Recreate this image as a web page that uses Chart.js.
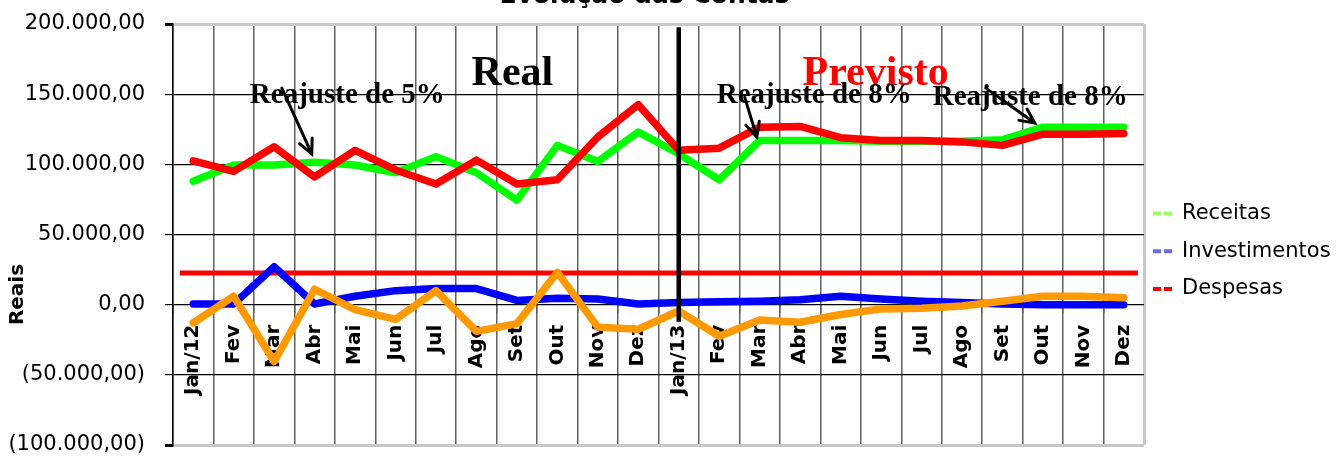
<!DOCTYPE html>
<html lang="pt-BR">
<head>
<meta charset="utf-8">
<title>Evolução das Contas</title>
<script src="https://cdn.jsdelivr.net/npm/chart.js@4.4.1/dist/chart.umd.min.js"></script>
<style>
  html, body { margin: 0; padding: 0; background: #fff; }
  #box { width: 1344px; height: 457px; position: relative; }
</style>
</head>
<body>
<div id="box"><canvas id="grafico"></canvas></div>
<script>
const meses = ['Jan/12', 'Fev', 'Mar', 'Abr', 'Mai', 'Jun', 'Jul', 'Ago', 'Set', 'Out', 'Nov', 'Dez',
               'Jan/13', 'Fev', 'Mar', 'Abr', 'Mai', 'Jun', 'Jul', 'Ago', 'Set', 'Out', 'Nov', 'Dez'];
const receitas = [88000, 99500, 99500, 101500, 99500, 94000, 105500, 94000, 74500, 113500, 102000, 123000,
                  107500, 89000, 117000, 117000, 117000, 116500, 116500, 116500, 117500, 126500, 126500, 126500];
const investimentos = [500, 500, 27000, 500, 6000, 10000, 11500, 11500, 3000, 4500, 4000, 500,
                       1500, 2000, 2500, 3500, 6000, 4000, 2500, 1500, 500, 0, 0, 0];
const despesas = [102500, 95000, 112500, 91000, 110000, 96000, 86000, 103000, 86000, 89000, 119500, 142500,
                  110000, 111500, 126500, 127000, 119000, 117000, 117000, 116000, 113500, 121500, 121500, 122000];
const saldo = [-13000, 6000, -40500, 11000, -3500, -10500, 10000, -19000, -13500, 23000, -16000, -17500,
               -4500, -22500, -11000, -12500, -7000, -3000, -2500, -1000, 2500, 6000, 6000, 5000];
const ticksY = [-100000, -50000, 0, 50000, 100000, 150000, 200000];
const linhaDespesas = 22500;   // linha vermelha horizontal
const mesDivisor = 12;         // Jan/13, onde começa o previsto

// formato brasileiro, negativos entre parênteses
function formata(v) {
  const inteiro = Math.round(Math.abs(v)).toString().replace(/\B(?=(\d{3})+(?!\d))/g, '.');
  const txt = inteiro + ',00';
  return v < 0 ? '(' + txt + ')' : txt;
}

// notas por cima do gráfico (x = índice do mês, y = valor em reais)
const notas = [
  { texto: 'Real', x: 6.88, y: 156500, cor: '#000', tam: 42 },
  { texto: 'Previsto', x: 15.06, y: 156500, cor: '#ff0000', tam: 42 },
  { texto: 'Reajuste de 5%', x: 1.40, y: 143700, cor: '#000', tam: 29 },
  { texto: 'Reajuste de 8%', x: 12.94, y: 143700, cor: '#000', tam: 29 },
  { texto: 'Reajuste de 8%', x: 18.28, y: 142200, cor: '#000', tam: 29 }
];
const setas = [
  { de: [2.19, 154300], ate: [2.93, 107400] },
  { de: [13.63, 147900], ate: [13.93, 119500] },
  { de: [19.59, 154300], ate: [20.80, 129400] }
];

const fundoPlugin = {
  id: 'fundo',
  beforeDatasetsDraw(chart) {
    const { ctx, scales } = chart;
    const y = scales.y.getPixelForValue(linhaDespesas);
    ctx.save();
    ctx.strokeStyle = '#ff0000';
    ctx.lineWidth = 5;
    ctx.beginPath();
    ctx.moveTo(scales.x.getPixelForValue(-0.33), y);
    ctx.lineTo(scales.x.getPixelForValue(23.35), y);
    ctx.stroke();
    ctx.restore();
  }
};

const notasPlugin = {
  id: 'notas',
  afterDatasetsDraw(chart) {
    const { ctx, scales } = chart;
    const px = v => scales.x.getPixelForValue(v);
    const py = v => scales.y.getPixelForValue(v);
    ctx.save();

    // linha preta Real / Previsto
    ctx.strokeStyle = '#000';
    ctx.lineWidth = 4.5;
    ctx.beginPath();
    ctx.moveTo(px(mesDivisor), py(197700));
    ctx.lineTo(px(mesDivisor), py(-12100));
    ctx.stroke();

    ctx.textBaseline = 'alphabetic';
    ctx.textAlign = 'left';
    notas.forEach(n => {
      ctx.fillStyle = n.cor;
      ctx.font = 'bold ' + n.tam + 'px "Liberation Serif", "Times New Roman", serif';
      ctx.fillText(n.texto, px(n.x), py(n.y));
    });

    ctx.lineWidth = 3;
    ctx.lineCap = 'round';
    setas.forEach(s => {
      const x1 = px(s.de[0]), y1 = py(s.de[1]), x2 = px(s.ate[0]), y2 = py(s.ate[1]);
      const ang = Math.atan2(y2 - y1, x2 - x1);
      ctx.beginPath();
      ctx.moveTo(x1, y1);
      ctx.lineTo(x2, y2);
      ctx.moveTo(x2 - 16 * Math.cos(ang - 0.45), y2 - 16 * Math.sin(ang - 0.45));
      ctx.lineTo(x2, y2);
      ctx.lineTo(x2 - 16 * Math.cos(ang + 0.45), y2 - 16 * Math.sin(ang + 0.45));
      ctx.stroke();
    });
    ctx.restore();
  },
  afterDraw(chart) {
    const { ctx, chartArea } = chart;
    const meio = (chartArea.left + chartArea.right) / 2;
    ctx.save();
    // título (cortado no topo, como no original)
    ctx.fillStyle = '#000';
    ctx.textAlign = 'center';
    ctx.textBaseline = 'alphabetic';
    ctx.font = 'bold 25px "DejaVu Sans", sans-serif';
    ctx.fillText('Evolução das Contas', meio - 14, 3);

    // título do eixo y
    ctx.translate(18, (chartArea.top + chartArea.bottom) / 2 + 60);
    ctx.rotate(-Math.PI / 2);
    ctx.textBaseline = 'middle';
    ctx.font = 'bold 20px "DejaVu Sans", sans-serif';
    ctx.fillText('Reais', 0, 0);
    ctx.restore();

    // legenda
    ctx.save();
    ctx.font = '21px "DejaVu Sans", sans-serif';
    ctx.textBaseline = 'middle';
    ctx.textAlign = 'left';
    const itens = chart.data.datasets.filter(d => d.corLegenda);
    let y = (chartArea.top + chartArea.bottom) / 2 - 21;
    itens.forEach(d => {
      ctx.strokeStyle = d.corLegenda;
      ctx.lineWidth = 4;
      ctx.setLineDash([8, 3]);
      ctx.beginPath();
      ctx.moveTo(chartArea.right + 9, y);
      ctx.lineTo(chartArea.right + 29, y);
      ctx.stroke();
      ctx.setLineDash([]);
      ctx.fillStyle = '#000';
      ctx.fillText(d.label, chartArea.right + 38, y);
      y += 37.7;
    });
    ctx.restore();
  }
};

const serie = (label, data, cor, ordem, corLegenda) => ({
  label, data,
  borderColor: cor, backgroundColor: cor,
  borderWidth: 7.5, pointRadius: 0, tension: 0,
  borderJoinStyle: 'round', borderCapStyle: 'round',
  order: ordem, corLegenda
});

new Chart(document.getElementById('grafico'), {
  type: 'line',
  data: {
    labels: meses,
    datasets: [
      serie('Receitas', receitas, '#00ff00', 3, '#99ff66'),
      serie('Investimentos', investimentos, '#0000ff', 1, '#6b6bd6'),
      serie('Despesas', despesas, '#ff0000', 2, '#ff0000'),
      serie('Saldo', saldo, '#ff9900', 0, null)
    ]
  },
  options: {
    responsive: true,
    maintainAspectRatio: false,
    animation: false,
    layout: { padding: { top: 24, right: 200, bottom: 12, left: 0 } },
    plugins: { legend: { display: false }, title: { display: false }, tooltip: { enabled: false } },
    scales: {
      x: {
        type: 'category',
        offset: true,
        position: { y: 0 },
        border: { display: false },
        afterFit: s => { s.paddingLeft = 0; s.paddingRight = 0; },
        grid: {
          offset: true,
          color: c => c.type === 'tick' ? '#606060' : '#c8c8c8',
          lineWidth: c => c.type === 'tick' ? 1.5 : 3,
          tickLength: 8
        },
        ticks: {
          autoSkip: false, minRotation: 90, maxRotation: 90, padding: 12,
          color: '#000',
          font: { family: 'DejaVu Sans', size: 20, weight: 'bold' }
        }
      },
      y: {
        min: -100000, max: 200000,
        afterBuildTicks: s => { s.ticks = ticksY.map(v => ({ value: v })); },
        afterFit: s => { s.width = 173; s.paddingTop = 0; s.paddingBottom = 0; },
        border: { color: '#000', width: 1.5 },
        grid: {
          color: c => (c.tick && (c.tick.value === 200000 || c.tick.value === -100000)) ? '#c8c8c8' : '#000',
          lineWidth: c => (c.tick && (c.tick.value === 200000 || c.tick.value === -100000)) ? 3 : 1.2,
          tickColor: '#000',
          tickLength: 8
        },
        ticks: {
          padding: 20,
          color: '#000',
          font: { family: 'DejaVu Sans', size: 21 },
          callback: v => formata(v)
        }
      }
    }
  },
  plugins: [fundoPlugin, notasPlugin]
});
</script>
</body>
</html>
